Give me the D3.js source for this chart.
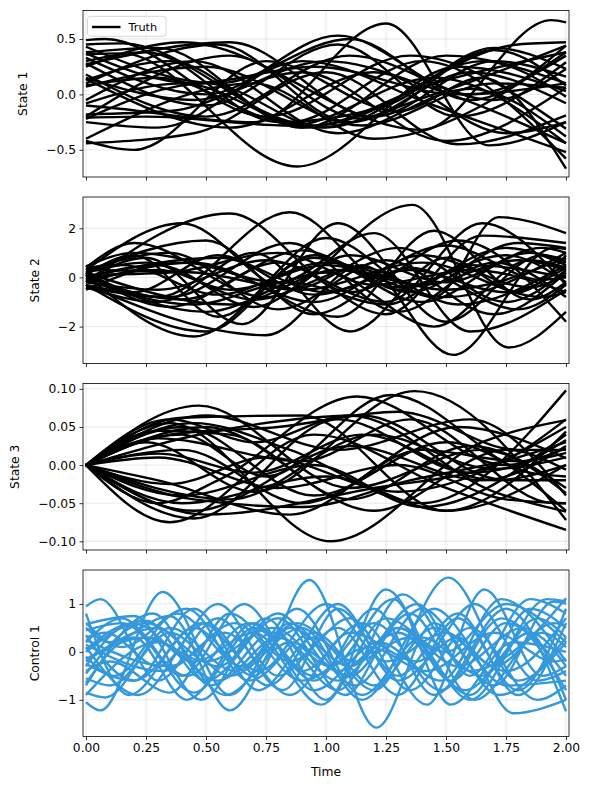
<!DOCTYPE html>
<html>
<head>
<meta charset="utf-8">
<script src="https://cdn.jsdelivr.net/npm/d3@7"></script>
<style>
  body { margin: 0; background: #fff; }
  svg text { font-family: "DejaVu Sans", sans-serif; fill: #000; }
</style>
</head>
<body>
<div class="chart"></div>
<script>

// time ticks shared by all panels
var timeTicks = [0, 0.25, 0.5, 0.75, 1.0, 1.25, 1.5, 1.75, 2.0];

// y ticks per panel
var state1Ticks = [-0.5, 0.0, 0.5];
var state2Ticks = [-2, 0, 2];
var state3Ticks = [-0.10, -0.05, 0.00, 0.05, 0.10];
var control1Ticks = [-1, 0, 1];

var panelLabels = ["State 1", "State 2", "State 3", "Control 1"];

// trajectories as [time, value] turning points
var state1 = [
  [[0,0.49],[0.08,0.5],[0.75,-0.2],[1.35,0.35],[2,-0.31]],
  [[0,0.45],[0.15,0.46],[0.95,-0.28],[1.8,0.45],[2,0.47]],
  [[0,0.43],[0.55,0.1],[1.1,0.5],[1.6,-0.05],[2,0.44]],
  [[0,0.38],[0.3,0.42],[0.9,-0.3],[1.45,0.1],[2,0.38]],
  [[0,0.36],[0.15,0.37],[0.88,-0.65],[1.55,0.25],[2,0.03]],
  [[0,0.33],[0.5,0.0],[1.05,0.53],[1.6,0.0],[2,0.35]],
  [[0,0.3],[0.25,0.38],[0.8,-0.25],[1.25,-0.1],[1.7,0.42],[2,0.23]],
  [[0,0.27],[0.6,0.47],[1.2,-0.2],[1.7,0.3],[2,0.16]],
  [[0,0.25],[0.4,0.47],[1.4,-0.32],[1.94,0.67],[2,0.65]],
  [[0,0.15],[0.45,-0.05],[1.0,0.3],[1.45,0.05],[2,-0.44]],
  [[0,0.13],[0.35,0.3],[0.9,-0.3],[1.5,0.35],[2,0.1]],
  [[0,0.1],[0.55,0.45],[1.1,-0.25],[1.6,0.2],[2,-0.08]],
  [[0,0.08],[0.3,0.15],[0.85,-0.25],[1.4,0.3],[2,-0.58]],
  [[0,-0.08],[0.4,0.1],[0.95,-0.3],[1.45,0.0],[2,0.44]],
  [[0,-0.1],[0.1,-0.12],[0.7,-0.25],[1.25,0.64],[1.68,-0.46],[2,-0.25]],
  [[0,-0.18],[0.35,-0.15],[0.9,0.2],[1.5,-0.42],[2,0.06]],
  [[0,-0.2],[0.6,0.35],[1.15,-0.22],[1.7,0.4],[2,0.08]],
  [[0,-0.22],[0.5,0.1],[1.0,-0.3],[1.65,0.3],[2,-0.02]],
  [[0,-0.25],[0.3,-0.3],[0.9,0.3],[1.45,-0.1],[2,-0.52]],
  [[0,-0.4],[0.7,0.1],[1.2,-0.4],[2,0.38]],
  [[0,-0.42],[0.2,-0.5],[0.75,0.3],[1.3,-0.15],[1.65,0.15],[2,-0.67]],
  [[0,-0.44],[0.45,-0.35],[1.0,0.2],[1.55,-0.45],[2,-0.19]],
  [[0,0.18],[0.5,-0.2],[1.1,0.35],[1.7,-0.05],[2,0.23]],
  [[0,-0.05],[0.45,0.3],[1.05,-0.35],[1.6,0.05],[2,-0.38]],
  [[0,0.28],[0.5,-0.1],[1.05,0.45],[1.55,-0.2],[2,0.29]],
  [[0,0.14],[0.6,-0.3],[1.2,0.2],[1.75,-0.35],[2,-0.25]],
  [[0,-0.21],[0.25,-0.2],[0.85,-0.28],[1.45,0.15],[2,-0.44]],
  [[0,0.37],[0.45,0.1],[0.95,0.25],[1.55,0.0],[2,0.1]],
  [[0,0.07],[0.5,0.25],[1.15,-0.28],[1.7,0.1],[2,0.06]]
];

var state2 = [
  [[0,0.3],[0.4,2.2],[0.85,-0.5],[1.3,1.2],[1.75,-1.0],[2,0.3]],
  [[0,0.1],[0.45,-2.4],[0.95,0.8],[1.4,-1.0],[1.85,1.0],[2,0.6]],
  [[0,-0.2],[0.6,2.6],[1.1,-0.6],[1.55,1.5],[2,-1.8]],
  [[0,0.2],[0.3,-0.8],[0.85,2.65],[1.3,-0.5],[1.75,1.2],[2,0.5]],
  [[0,-0.3],[0.75,-2.35],[1.15,0.5],[1.53,-3.15],[1.95,1.2],[2,1.15]],
  [[0,0.4],[0.2,1.4],[0.75,-0.8],[1.36,2.95],[1.76,-2.85],[2,-1.4]],
  [[0,-0.4],[0.3,-1.0],[0.7,1.0],[1.1,-2.2],[1.5,0.8],[1.8,-0.6],[2,0.9]],
  [[0,0.1],[0.2,0.9],[0.55,-1.6],[1.0,1.6],[1.45,-0.8],[1.72,2.45],[2,1.8]],
  [[0,0.2],[0.35,-1.2],[0.8,0.6],[1.25,-1.5],[1.65,1.7],[2,1.4]],
  [[0,-0.1],[0.25,0.8],[0.65,-1.9],[1.05,2.2],[1.5,-1.8],[1.9,0.9],[2,0.7]],
  [[0,0.0],[0.4,-0.9],[0.9,1.1],[1.3,-0.4],[1.75,0.9],[2,-0.2]],
  [[0,0.3],[0.35,1.0],[0.8,-1.3],[1.25,0.7],[1.7,-1.5],[2,0.2]],
  [[0,-0.2],[0.45,0.6],[0.95,-1.0],[1.4,0.9],[1.85,-0.4],[2,0.1]],
  [[0,0.1],[0.5,-1.4],[1.0,0.2],[1.45,-2.0],[1.85,0.7],[2,0.4]],
  [[0,-0.3],[0.5,-2.2],[0.95,0.9],[1.35,-0.6],[1.8,1.4],[2,1.2]],
  [[0,0.4],[0.15,0.5],[0.55,-0.7],[1.0,0.6],[1.5,-0.5],[2,0.8]],
  [[0,-0.5],[0.4,0.6],[0.8,-0.2],[1.2,1.8],[1.6,-2.2],[2,-0.5]],
  [[0,0.2],[0.5,1.5],[0.95,-1.5],[1.35,0.4],[1.8,-1.3],[2,-0.3]],
  [[0,-0.1],[0.3,0.3],[0.7,-0.9],[1.15,0.4],[1.55,-1.1],[2,0.5]],
  [[0,0.0],[0.55,0.8],[1.0,-0.6],[1.5,1.3],[1.9,-0.1],[2,0.0]],
  [[0,-0.4],[0.35,-0.8],[0.85,1.4],[1.3,-1.4],[1.7,0.6],[2,-0.8]],
  [[0,0.2],[0.6,-1.1],[1.05,0.3],[1.5,-0.8],[2,1.0]],
  [[0,0.3],[0.45,0.2],[0.9,-0.5],[1.4,0.6],[1.9,-0.8],[2,-0.6]],
  [[0,-0.2],[0.3,-0.5],[0.75,0.7],[1.25,-1.0],[1.65,2.2],[2,-0.3]],
  [[0,0.2],[0.25,0.6],[0.6,-0.5],[1.0,0.5],[1.4,-0.3],[1.8,0.7],[2,0.3]],
  [[0,-0.3],[0.2,-0.6],[0.55,0.9],[0.95,-0.7],[1.35,0.3],[1.75,-0.6],[2,0.4]],
  [[0,0.0],[0.3,0.5],[0.7,-1.2],[1.1,0.9],[1.5,-0.2],[1.9,1.2],[2,1.0]],
  [[0,0.45],[0.2,1.0],[0.6,0.2],[1.05,-1.6],[1.45,1.9],[1.85,-0.9],[2,-0.2]],
  [[0,-0.1],[0.45,-1.1],[0.85,-0.2],[1.25,-1.1],[1.6,0.5],[2,0.0]],
  [[0,0.1],[0.35,0.2],[0.8,1.0],[1.2,-0.3],[1.6,0.3],[2,-0.6]]
];

var state3 = [
  [[0,0],[0.47,0.078],[1.1,-0.03],[1.65,0.02],[2,-0.037]],
  [[0,0],[0.35,0.055],[1.02,-0.1],[1.65,0.03],[2,0.059]],
  [[0,0],[0.25,0.03],[0.7,-0.035],[1.37,0.097],[2,-0.072]],
  [[0,0],[0.45,0.055],[0.85,0.02],[1.4,-0.05],[2,0.098]],
  [[0,0],[0.3,-0.05],[0.55,-0.02],[1.13,0.09],[1.75,0.0],[2,0.033]],
  [[0,0],[0.4,0.04],[0.75,-0.015],[1.27,0.092],[1.85,-0.01],[2,-0.015]],
  [[0,0],[0.4,0.062],[0.9,0.065],[1.5,-0.06],[2,0.044]],
  [[0,0],[0.35,-0.075],[0.95,0.04],[1.5,-0.03],[2,-0.085]],
  [[0,0],[0.45,-0.07],[1.05,0.06],[1.6,-0.01],[2,0.022]],
  [[0,0],[0.3,0.035],[0.9,0.005],[1.35,0.06],[1.95,-0.05],[2,-0.05]],
  [[0,0],[0.5,-0.065],[1.2,-0.03],[1.7,0.0],[2,0.06]],
  [[0,0],[0.4,0.02],[0.9,-0.05],[1.55,0.05],[2,0.009]],
  [[0,0],[0.3,-0.02],[0.85,-0.065],[1.4,0.02],[1.8,0.005],[2,0.016]],
  [[0,0],[0.5,0.05],[1.2,-0.06],[1.75,0.02],[2,-0.006]],
  [[0,0],[0.35,0.06],[0.7,0.03],[1.1,0.065],[1.7,-0.035],[2,-0.061]],
  [[0,0],[0.4,-0.04],[0.95,0.0],[1.4,-0.055],[2,0.04]],
  [[0,0],[0.3,0.01],[0.8,-0.03],[1.3,0.0],[1.75,-0.045],[2,-0.05]],
  [[0,0],[0.45,-0.06],[1.1,0.025],[1.65,-0.02],[2,0.025]],
  [[0,0],[0.55,0.045],[1.15,0.065],[1.75,-0.02],[2,-0.02]],
  [[0,0],[0.35,-0.025],[0.75,0.01],[1.3,-0.035],[2,0.05]],
  [[0,0],[0.4,-0.05],[1.0,-0.015],[1.5,-0.06],[2,0.0]],
  [[0,0],[0.5,0.065],[1.05,0.02],[1.6,0.06],[2,-0.04]],
  [[0,0],[0.6,-0.045],[1.2,0.04],[1.7,-0.005],[2,0.01]],
  [[0,0],[0.3,0.045],[0.6,0.04],[1.1,-0.045],[1.6,0.025],[2,-0.03]],
  [[0,0],[0.35,0.04],[0.8,0.05],[1.3,0.07],[1.8,0.02],[2,0.02]],
  [[0,0],[0.45,-0.045],[0.9,-0.055],[1.35,-0.02],[1.8,0.01],[2,0.03]],
  [[0,0],[0.3,0.015],[0.7,-0.01],[1.15,0.04],[1.7,-0.02],[2,0.0]],
  [[0,0],[0.4,0.05],[0.95,-0.04],[1.5,0.03],[2,-0.06]]
];

var control1 = [
  [[0,0.95],[0.06,1.1],[0.3,-0.6],[0.55,0.7],[0.82,-0.8],[1.05,0.9],[1.3,-0.5],[1.55,0.8],[1.8,-0.9],[2,0.6]],
  [[0,-1.05],[0.06,-1.22],[0.32,1.25],[0.6,-0.9],[0.85,0.6],[1.12,-0.7],[1.4,0.9],[1.7,-0.7],[1.95,1.05],[2,1.0]],
  [[0,0.8],[0.18,-0.9],[0.45,0.5],[0.7,-0.5],[0.93,1.5],[1.21,-1.58],[1.45,0.6],[1.72,-0.9],[2,0.3]],
  [[0,0.58],[0.2,0.75],[0.48,-1.0],[0.75,0.7],[1.0,-1.0],[1.25,1.3],[1.52,-0.6],[1.75,0.6],[2,-0.5]],
  [[0,0.5],[0.1,0.2],[0.35,0.75],[0.6,-1.22],[0.85,0.5],[1.1,-0.3],[1.38,1.0],[1.6,-0.5],[1.85,1.1],[2,0.8]],
  [[0,0.35],[0.2,-0.6],[0.45,0.9],[0.72,-0.8],[0.95,0.3],[1.2,-0.8],[1.51,1.55],[1.8,-0.6],[2,0.2]],
  [[0,0.2],[0.15,0.7],[0.4,-0.5],[0.66,1.0],[0.9,-0.4],[1.15,0.6],[1.42,-1.1],[1.66,1.3],[1.9,-0.5],[2,-0.3]],
  [[0,0.1],[0.22,-0.9],[0.5,0.6],[0.76,-0.7],[1.05,1.0],[1.3,-0.6],[1.55,0.3],[1.78,-1.28],[2,-1.0]],
  [[0,0.0],[0.25,0.65],[0.5,-0.6],[0.8,0.7],[1.08,-0.9],[1.3,0.5],[1.6,-0.9],[1.85,0.9],[2,0.5]],
  [[0,-0.1],[0.12,-0.5],[0.38,0.8],[0.65,-0.3],[0.88,0.9],[1.15,-0.9],[1.4,0.3],[1.65,-0.5],[1.92,1.1],[2,1.05]],
  [[0,-0.2],[0.3,0.5],[0.58,-0.9],[0.85,0.2],[1.1,-0.5],[1.35,0.8],[1.62,-1.0],[1.9,0.4],[2,0.1]],
  [[0,-0.3],[0.18,0.55],[0.45,-0.85],[0.7,0.5],[0.95,-0.6],[1.2,0.9],[1.45,-0.9],[1.75,0.9],[2,-1.24]],
  [[0,-0.45],[0.25,0.6],[0.55,-0.3],[0.8,0.8],[1.05,-0.4],[1.3,0.4],[1.58,-0.8],[1.85,0.4],[2,-0.3]],
  [[0,-0.55],[0.1,-0.7],[0.35,0.4],[0.6,-0.5],[0.9,0.5],[1.15,-1.0],[1.45,0.9],[1.7,-0.3],[1.95,0.6],[2,0.55]],
  [[0,-0.65],[0.2,0.3],[0.42,-1.0],[0.7,0.6],[0.95,-0.8],[1.22,0.2],[1.48,-0.6],[1.73,1.1],[2,-0.2]],
  [[0,-0.85],[0.08,-0.95],[0.35,0.5],[0.62,-0.4],[0.88,0.6],[1.12,-0.2],[1.35,0.3],[1.6,-1.0],[1.88,0.7],[2,0.3]],
  [[0,-0.9],[0.3,0.2],[0.55,-0.6],[0.8,0.3],[1.05,-0.6],[1.3,0.5],[1.55,-0.3],[1.82,0.5],[2,-1.0]],
  [[0,0.3],[0.08,0.4],[0.3,-0.3],[0.55,1.0],[0.8,-0.5],[1.05,0.5],[1.3,-0.9],[1.55,0.7],[1.8,-0.8],[2,0.9]],
  [[0,0.6],[0.15,0.1],[0.42,0.9],[0.68,-0.6],[0.95,0.4],[1.2,-0.7],[1.45,0.5],[1.75,-0.4],[2,0.7]],
  [[0,-0.25],[0.2,-0.6],[0.48,0.6],[0.72,-0.4],[1.0,1.0],[1.25,-0.2],[1.5,0.4],[1.75,-0.7],[2,-0.6]],
  [[0,0.15],[0.32,-0.4],[0.58,0.4],[0.85,-0.9],[1.1,0.4],[1.38,-0.2],[1.62,1.0],[1.88,-0.6],[2,-0.4]],
  [[0,-0.15],[0.25,0.3],[0.5,-0.2],[0.78,0.5],[1.02,-0.3],[1.28,1.1],[1.52,-1.1],[1.78,0.2],[2,0.0]],
  [[0,0.45],[0.15,0.6],[0.42,-0.5],[0.68,0.6],[0.95,-0.5],[1.2,0.6],[1.48,-0.8],[1.73,0.7],[2,-0.8]],
  [[0,-0.4],[0.1,-0.2],[0.35,-0.85],[0.6,0.8],[0.85,-0.2],[1.1,0.7],[1.35,-0.8],[1.6,0.5],[1.88,-1.0],[2,-0.7]],
  [[0,0.05],[0.2,0.6],[0.45,-0.2],[0.7,0.4],[0.98,-1.1],[1.25,0.7],[1.5,0.0],[1.75,1.0],[2,0.2]],
  [[0,-0.7],[0.28,0.8],[0.52,-0.7],[0.78,0.4],[1.05,-0.8],[1.32,1.2],[1.6,-0.4],[1.85,0.3],[2,1.12]],
  [[0,0.25],[0.35,-0.3],[0.62,0.6],[0.9,-0.6],[1.18,0.1],[1.42,-0.4],[1.7,0.4],[1.95,-0.2],[2,-0.15]]
];

var W = 590, H = 790;
var left = 83, plotW = 486, plotH = 166.5;
var tops = [10.5, 197, 383.5, 570];

var panels = [
  {data: state1, ticks: state1Ticks, domain: [-0.745, 0.757], fmt: d3.format(".1f"), color: "#000"},
  {data: state2, ticks: state2Ticks, domain: [-3.50, 3.27], fmt: d3.format("d"), color: "#000"},
  {data: state3, ticks: state3Ticks, domain: [-0.1114, 0.107], fmt: d3.format(".2f"), color: "#000"},
  {data: control1, ticks: control1Ticks, domain: [-1.765, 1.708], fmt: d3.format("d"), color: "#3498db"}
];

var svg = d3.select(".chart").append("svg")
  .attr("width", W)
  .attr("height", H);

svg.append("rect").attr("width", W).attr("height", H).attr("fill", "#fff");

var x = d3.scaleLinear().domain([-0.0125, 2.0125]).range([0, plotW]);

var minus = function(s) { return s.replace("-", "\u2212"); };

panels.forEach(function(p, i) {
  var y = d3.scaleLinear().domain(p.domain).range([plotH, 0]);

  var g = svg.append("g")
    .attr("transform", "translate(" + left + "," + tops[i] + ")");

  g.append("clipPath").attr("id", "clip" + i)
    .append("rect").attr("width", plotW).attr("height", plotH);

  // grid
  g.append("g").selectAll("line").data(timeTicks).join("line")
    .attr("x1", d => x(d)).attr("x2", d => x(d))
    .attr("y1", 0).attr("y2", plotH)
    .attr("stroke", "#b0b0b0").attr("stroke-opacity", 0.35).attr("stroke-width", 0.8);
  g.append("g").selectAll("line").data(p.ticks).join("line")
    .attr("x1", 0).attr("x2", plotW)
    .attr("y1", d => y(d)).attr("y2", d => y(d))
    .attr("stroke", "#b0b0b0").attr("stroke-opacity", 0.35).attr("stroke-width", 0.8);

  var line = d3.line()
    .x(d => x(d[0]))
    .y(d => y(d[1]))
    .curve(d3.curveMonotoneX);

  g.append("g").attr("clip-path", "url(#clip" + i + ")")
    .selectAll("path").data(p.data).join("path")
    .attr("d", line)
    .attr("fill", "none")
    .attr("stroke", p.color)
    .attr("stroke-width", 2.4)
    .attr("stroke-linejoin", "round");

  // axes
  var yAxis = d3.axisLeft(y).tickValues(p.ticks).tickSize(3.5).tickPadding(3.5)
    .tickFormat(d => minus(p.fmt(d)));
  var ya = g.append("g").call(yAxis);

  var xAxis = d3.axisBottom(x).tickValues(timeTicks).tickSize(3.5).tickPadding(3.5)
    .tickFormat(i == 3 ? d3.format(".2f") : "");
  var xa = g.append("g").attr("transform", "translate(0," + plotH + ")").call(xAxis);

  [ya, xa].forEach(function(a) {
    a.select(".domain").remove();
    a.selectAll(".tick line").attr("stroke", "#000").attr("stroke-width", 0.8);
    a.selectAll(".tick text").attr("font-size", 12.3).attr("fill", "#000")
      .attr("font-family", "DejaVu Sans");
  });

  g.append("rect").attr("width", plotW).attr("height", plotH)
    .attr("fill", "none").attr("stroke", "#000").attr("stroke-width", 0.8);

  // ylabel to the left of the tick labels
  var textW = d3.max(ya.selectAll(".tick text").nodes(), n => n.getBBox().width);
  var lx = -3.5 - 3.5 - textW - 19;
  g.append("text")
    .attr("transform", "translate(" + lx + "," + (plotH / 2) + ") rotate(-90)")
    .attr("text-anchor", "middle")
    .attr("font-size", 12.3)
    .text(panelLabels[i]);

  if (i == 0) {
    var lg = g.append("g").attr("transform", "translate(4.5,5.8)");
    lg.append("rect").attr("width", 78.5).attr("height", 20).attr("rx", 3)
      .attr("fill", "#fff").attr("fill-opacity", 0.8)
      .attr("stroke", "#cccccc").attr("stroke-width", 0.8);
    lg.append("line").attr("x1", 4.5).attr("x2", 33).attr("y1", 10.7).attr("y2", 10.7)
      .attr("stroke", "#000").attr("stroke-width", 2.4);
    lg.append("text").attr("x", 41).attr("y", 14.8).attr("font-size", 11.3).text("Truth");
  }
});

svg.append("text")
  .attr("x", left + plotW / 2)
  .attr("y", 776)
  .attr("text-anchor", "middle")
  .attr("font-size", 12.3)
  .text("Time");

</script>
</body>
</html>
